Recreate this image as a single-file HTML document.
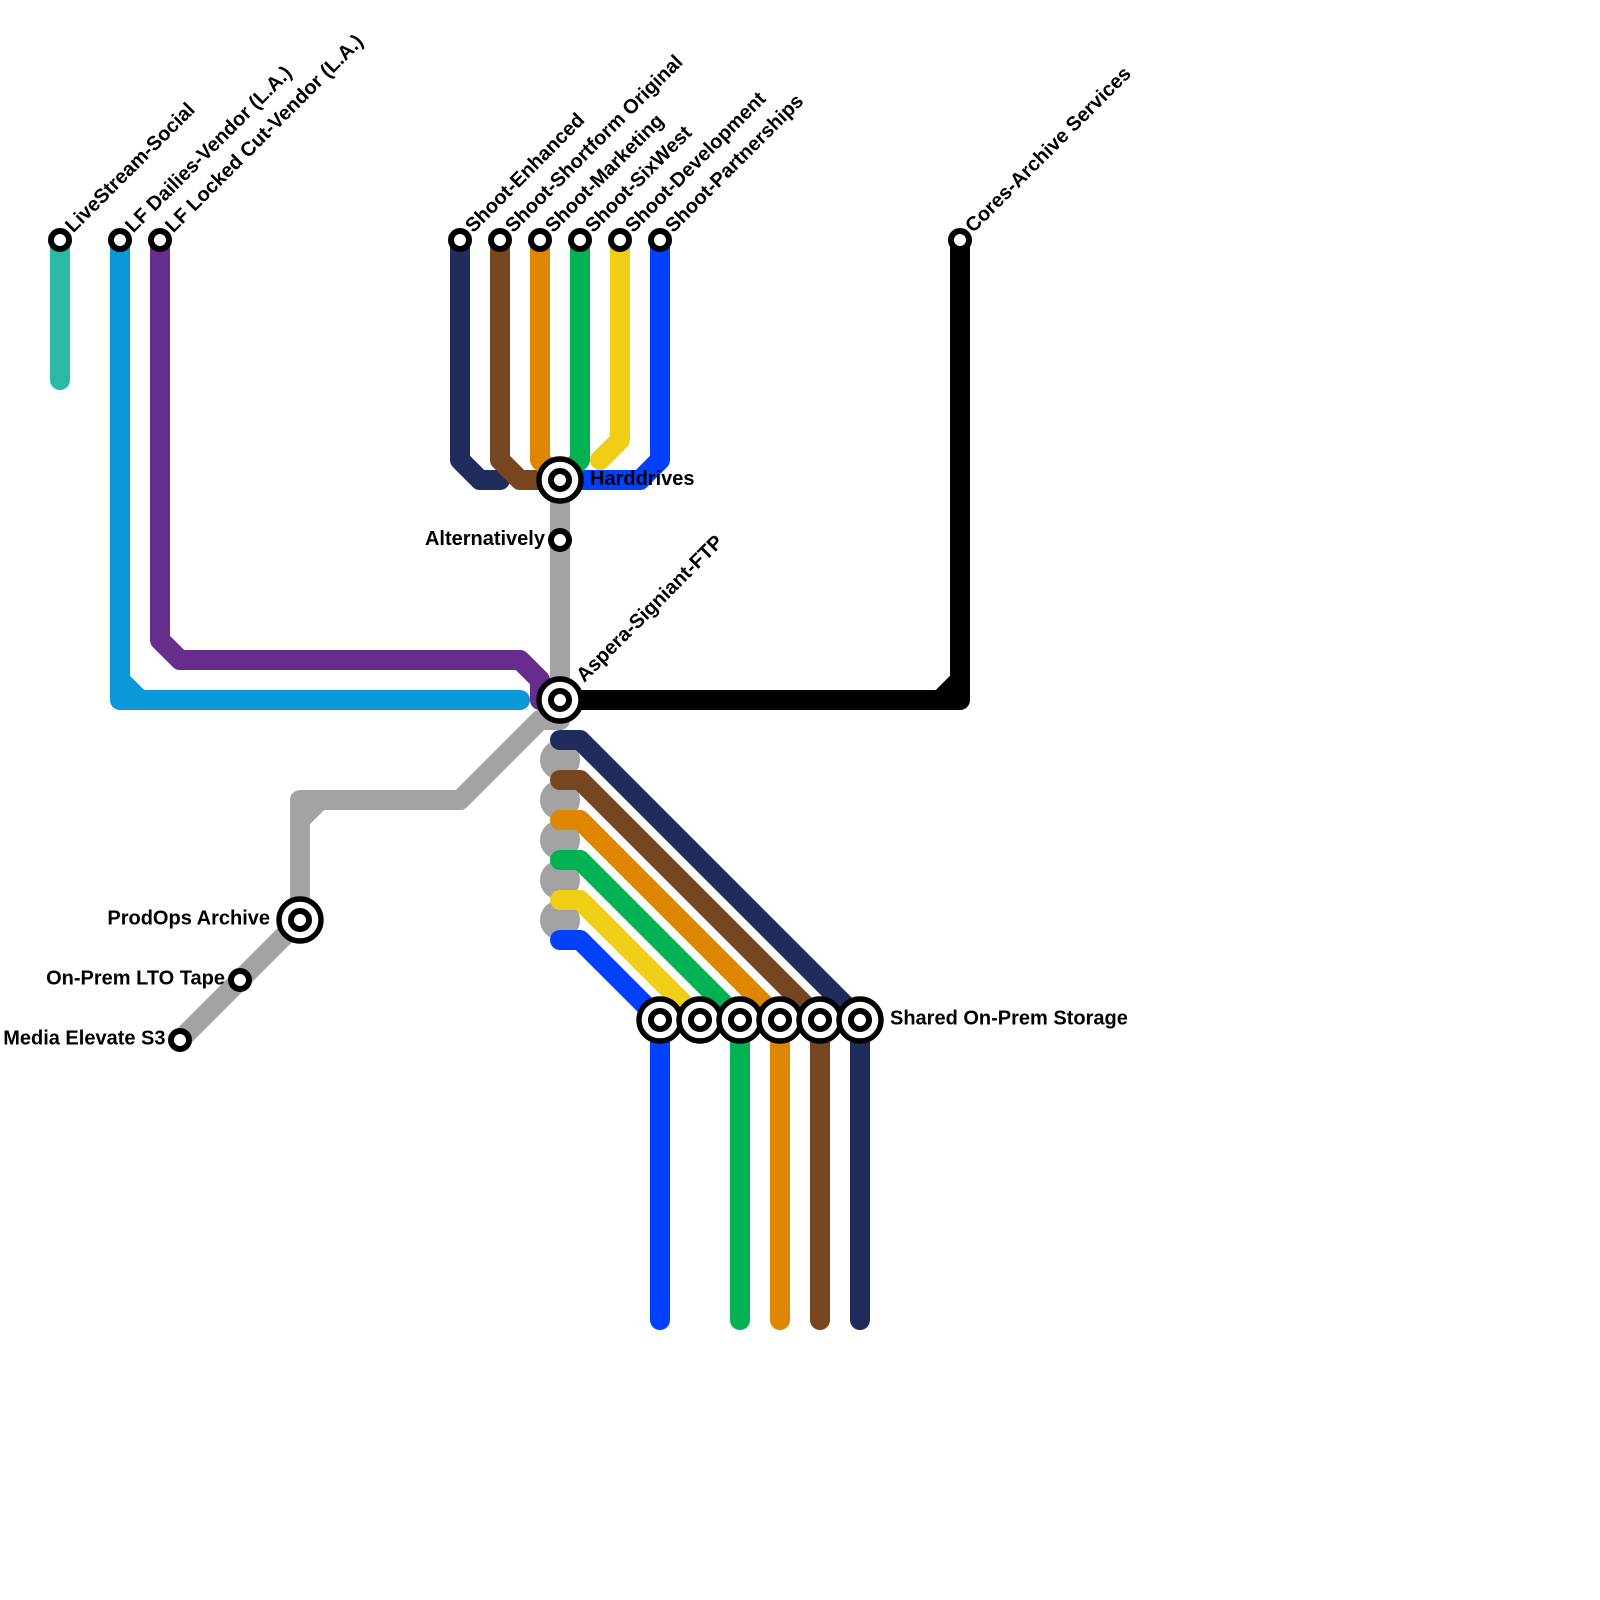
<!DOCTYPE html>
<html><head><meta charset="utf-8"><style>
html,body{margin:0;padding:0;background:#fff}
svg{display:block}
text{font-family:"Liberation Sans",sans-serif;font-weight:700;font-size:20px;fill:#000}
.l{fill:none;stroke-width:20;stroke-linecap:round;stroke-linejoin:round}
.s{fill:#fff;stroke:#000;stroke-width:6}
.b{fill:#fff;stroke:#000;stroke-width:5.4}
</style></head><body>
<svg width="1600" height="1600" viewBox="0 0 1600 1600" xmlns="http://www.w3.org/2000/svg">
<rect width="1600" height="1600" fill="#fff"/>
<path class="l" stroke="#2bb9a6" d="M60 240V380"/>
<path class="l" stroke="#662d8c" d="M160 240V640L180 660H520L540 680V700H560"/>
<path class="l" stroke="#0a98d8" d="M120 240V680L140 700H520M120 680V700H140"/>
<path class="l" stroke="#a3a3a3" d="M560 480V720H540L460 800H320L300 820V920L180 1040M300 820V800H320"/>
<g fill="#a3a3a3"><circle cx="560" cy="760" r="20"/><circle cx="560" cy="800" r="20"/><circle cx="560" cy="840" r="20"/><circle cx="560" cy="880" r="20"/><circle cx="560" cy="920" r="20"/></g>
<path class="l" stroke="#000" d="M560 700H940L960 680V240M940 700H960V680"/>
<path class="l" stroke="#202b5e" d="M460 240V460L480 480H500"/>
<path class="l" stroke="#75461f" d="M500 240V460L520 480H560"/>
<path class="l" stroke="#0040ff" d="M660 240V460L640 480H560"/>
<path class="l" stroke="#de8600" d="M540 240V460L560 480"/>
<path class="l" stroke="#00b251" d="M580 240V460L560 480"/>
<path class="l" stroke="#f0ce15" d="M620 240V440L600 460"/>
<path class="l" stroke="#202b5e" d="M560 740H580L860 1020V1320"/>
<path class="l" stroke="#75461f" d="M560 780H580L820 1020V1320"/>
<path class="l" stroke="#de8600" d="M560 820H580L780 1020V1320"/>
<path class="l" stroke="#00b251" d="M560 860H580L740 1020V1320"/>
<path class="l" stroke="#f0ce15" d="M560 900H580L700 1020"/>
<path class="l" stroke="#0040ff" d="M560 940H580L660 1020V1320"/>
<g>
<circle class="s" cx="60" cy="240" r="9"/><circle class="s" cx="120" cy="240" r="9"/><circle class="s" cx="160" cy="240" r="9"/>
<circle class="s" cx="460" cy="240" r="9"/><circle class="s" cx="500" cy="240" r="9"/><circle class="s" cx="540" cy="240" r="9"/><circle class="s" cx="580" cy="240" r="9"/><circle class="s" cx="620" cy="240" r="9"/><circle class="s" cx="660" cy="240" r="9"/><circle class="s" cx="960" cy="240" r="9"/>
<circle class="s" cx="560" cy="540" r="9"/><circle class="s" cx="240" cy="980" r="9"/><circle class="s" cx="180" cy="1040" r="9"/>
<circle class="b" cx="560" cy="480" r="21"/><circle class="s" cx="560" cy="480" r="9"/>
<circle class="b" cx="560" cy="700" r="21"/><circle class="s" cx="560" cy="700" r="9"/>
<circle class="b" cx="300" cy="920" r="21"/><circle class="s" cx="300" cy="920" r="9"/>
<circle class="b" cx="660" cy="1020" r="21"/><circle class="s" cx="660" cy="1020" r="9"/>
<circle class="b" cx="700" cy="1020" r="21"/><circle class="s" cx="700" cy="1020" r="9"/>
<circle class="b" cx="740" cy="1020" r="21"/><circle class="s" cx="740" cy="1020" r="9"/>
<circle class="b" cx="780" cy="1020" r="21"/><circle class="s" cx="780" cy="1020" r="9"/>
<circle class="b" cx="820" cy="1020" r="21"/><circle class="s" cx="820" cy="1020" r="9"/>
<circle class="b" cx="860" cy="1020" r="21"/><circle class="s" cx="860" cy="1020" r="9"/>
</g>
<text transform="translate(73.300 233.500) rotate(-45)">LiveStream-Social</text>
<text transform="translate(133.300 233.500) rotate(-45)">LF Dailies-Vendor (L.A.)</text>
<text transform="translate(173.300 233.500) rotate(-45)">LF Locked Cut-Vendor (L.A.)</text>
<text transform="translate(473.300 233.500) rotate(-45)">Shoot-Enhanced</text>
<text transform="translate(513.300 233.500) rotate(-45)">Shoot-Shortform Original</text>
<text transform="translate(553.300 233.500) rotate(-45)">Shoot-Marketing</text>
<text transform="translate(593.300 233.500) rotate(-45)">Shoot-SixWest</text>
<text transform="translate(633.300 233.500) rotate(-45)">Shoot-Development</text>
<text transform="translate(673.300 233.500) rotate(-45)">Shoot-Partnerships</text>
<text transform="translate(973.300 233.500) rotate(-45)">Cores-Archive Services</text>
<text transform="translate(584.300 683) rotate(-45)">Aspera-Signiant-FTP</text>
<text x="590" y="485">Harddrives</text>
<text x="545" y="545" text-anchor="end">Alternatively</text>
<text x="270" y="924.500" text-anchor="end">ProdOps Archive</text>
<text x="225" y="984.500" text-anchor="end">On-Prem LTO Tape</text>
<text x="165.500" y="1044.500" text-anchor="end">Media Elevate S3</text>
<text x="890" y="1024.500">Shared On-Prem Storage</text>
</svg>
</body></html>
